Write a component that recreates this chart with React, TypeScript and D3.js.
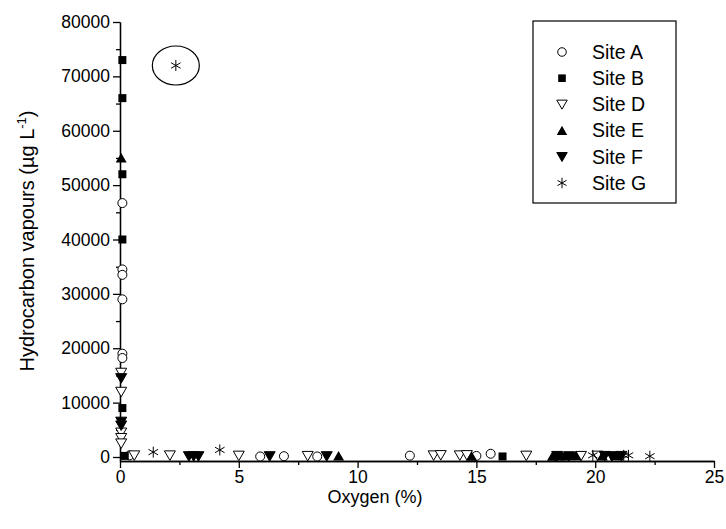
import * as d3 from 'd3';
import React, { useEffect, useRef } from 'react';

// [oxygen %, hydrocarbon vapours µg/L]
const siteA = [[0.1, 46700], [0.1, 34500], [0.1, 33500], [0.1, 29000], [0.1, 19000], [0.1, 18200],
    [0.4, 300], [5.9, 100], [6.9, 150], [8.3, 100], [12.2, 250], [15.0, 200], [15.6, 600]];
const siteB = [[0.1, 73000], [0.1, 66000], [0.1, 52000], [0.1, 40000], [0.1, 9000], [0.2, 200],
    [16.1, 100], [18.7, 100], [19.0, 150], [20.8, 200], [21.0, 150]];
const siteD = [[0.05, 15500], [0.05, 12000], [0.05, 4500], [0.05, 3500], [0.05, 2500],
    [0.6, 300], [2.1, 300], [5.0, 250], [7.9, 200], [13.2, 300], [13.5, 350], [14.3, 300],
    [14.6, 350], [17.1, 250], [19.4, 200], [20.1, 250]];
const siteE = [[0.05, 55000], [9.2, 200], [14.8, 150], [18.2, 150], [18.5, 200], [19.2, 250],
    [20.3, 200], [20.9, 250]];
const siteF = [[0.05, 14500], [0.05, 6500], [0.05, 5800], [2.9, 150], [3.1, 150], [3.3, 150],
    [6.3, 150], [8.7, 150], [18.4, 200], [18.9, 150], [20.4, 200], [20.7, 150], [21.1, 200]];
const siteG = [[1.4, 900], [2.35, 72000], [4.2, 1300], [19.9, 300], [21.2, 300], [21.4, 300], [22.3, 150]];

const series = [
    { name: 'Site A', symbol: 'circle', points: siteA },
    { name: 'Site B', symbol: 'square', points: siteB },
    { name: 'Site D', symbol: 'openDown', points: siteD },
    { name: 'Site E', symbol: 'up', points: siteE },
    { name: 'Site F', symbol: 'down', points: siteF },
    { name: 'Site G', symbol: 'star', points: siteG },
];

const xTicks = [0, 5, 10, 15, 20, 25];
const yTicks = [0, 10000, 20000, 30000, 40000, 50000, 60000, 70000, 80000];
const highlighted = [2.35, 72000]; // circled Site G sample

const FONT = '"Liberation Sans", Arial, sans-serif';

function drawSymbol(g, symbol, x, y, s = 1) {
    if (symbol === 'circle') {
        g.append('circle').attr('cx', x).attr('cy', y).attr('r', 4.5 * s)
            .attr('fill', 'white').attr('stroke', 'black').attr('stroke-width', 1);
    } else if (symbol === 'square') {
        g.append('rect').attr('x', x - 4 * s).attr('y', y - 4 * s)
            .attr('width', 8 * s).attr('height', 8 * s).attr('fill', 'black');
    } else if (symbol === 'up') {
        g.append('path').attr('d', `M${x - 5.5 * s},${y + 4.5 * s}L${x + 5.5 * s},${y + 4.5 * s}L${x},${y - 5 * s}Z`)
            .attr('fill', 'black');
    } else if (symbol === 'down' || symbol === 'openDown') {
        g.append('path').attr('d', `M${x - 5.5 * s},${y - 4.5 * s}L${x + 5.5 * s},${y - 4.5 * s}L${x},${y + 5 * s}Z`)
            .attr('fill', symbol === 'down' ? 'black' : 'white')
            .attr('stroke', 'black').attr('stroke-width', 1);
    } else if (symbol === 'star') {
        const r = 5.5 * s;
        [90, 30, 150].forEach(a => {
            const dx = r * Math.cos(a * Math.PI / 180), dy = r * Math.sin(a * Math.PI / 180);
            g.append('line').attr('x1', x - dx).attr('y1', y - dy).attr('x2', x + dx).attr('y2', y + dy)
                .attr('stroke', 'black').attr('stroke-width', 1);
        });
    }
}

export default function App() {
    const ref = useRef();

    useEffect(() => {
        const svg = d3.select(ref.current);
        svg.selectAll('*').remove();

        const x = d3.scaleLinear().domain([0, 25]).range([120, 714]);
        const y = d3.scaleLinear().domain([-735, 80000]).range([461, 22]);

        // minor ticks
        const gxm = svg.append('g').attr('transform', 'translate(0,461)')
            .call(d3.axisBottom(x).tickValues(d3.range(2.5, 25, 5)).tickSize(4).tickSizeOuter(0).tickFormat(() => ''));
        const gym = svg.append('g').attr('transform', 'translate(120,0)')
            .call(d3.axisLeft(y).tickValues(d3.range(5000, 80000, 10000)).tickSize(4).tickSizeOuter(0).tickFormat(() => ''));

        const gx = svg.append('g').attr('transform', 'translate(0,461)')
            .call(d3.axisBottom(x).tickValues(xTicks).tickSize(7).tickSizeOuter(0).tickPadding(3));
        const gy = svg.append('g').attr('transform', 'translate(120,0)')
            .call(d3.axisLeft(y).tickValues(yTicks).tickSize(7).tickSizeOuter(0).tickPadding(3).tickFormat(d3.format('d')));

        [gxm, gym, gx, gy].forEach(g => {
            g.selectAll('path, line').attr('stroke', 'black').attr('stroke-width', 1.3);
            g.selectAll('text').attr('font-family', FONT).attr('font-size', 17.5).attr('fill', 'black');
        });

        svg.append('text').attr('x', 375).attr('y', 503).attr('text-anchor', 'middle')
            .attr('font-family', FONT).attr('font-size', 18).text('Oxygen (%)');

        const yt = svg.append('text')
            .attr('transform', 'translate(34,241) rotate(-90)')
            .attr('text-anchor', 'middle')
            .attr('font-family', FONT).attr('font-size', 20);
        yt.append('tspan').text('Hydrocarbon vapours (\u00b5g L');
        yt.append('tspan').attr('dy', -8).attr('font-size', 13).text('-1');
        yt.append('tspan').attr('dy', 8).text(')');

        const pts = svg.append('g');
        series.forEach(s => {
            s.points.forEach(p => drawSymbol(pts, s.symbol, x(p[0]), y(p[1])));
        });

        svg.append('ellipse')
            .attr('cx', x(highlighted[0])).attr('cy', y(highlighted[1]))
            .attr('rx', 23.5).attr('ry', 19.5)
            .attr('fill', 'none').attr('stroke', 'black').attr('stroke-width', 1.2);

        // legend
        const lg = svg.append('g');
        lg.append('rect').attr('x', 533).attr('y', 21).attr('width', 143).attr('height', 182)
            .attr('fill', 'white').attr('stroke', 'black').attr('stroke-width', 1.2);
        series.forEach((s, i) => {
            const cy = 52 + i * 26.2;
            drawSymbol(lg, s.symbol, 562, cy, 0.95);
            lg.append('text').attr('x', 592).attr('y', cy).attr('dy', '0.35em')
                .attr('font-family', FONT).attr('font-size', 19.5).text(s.name);
        });
    }, []);

    return <svg ref={ref} width={726} height={529} style={{ position: 'absolute', left: 0, top: 0, background: 'white' }} />;
}
